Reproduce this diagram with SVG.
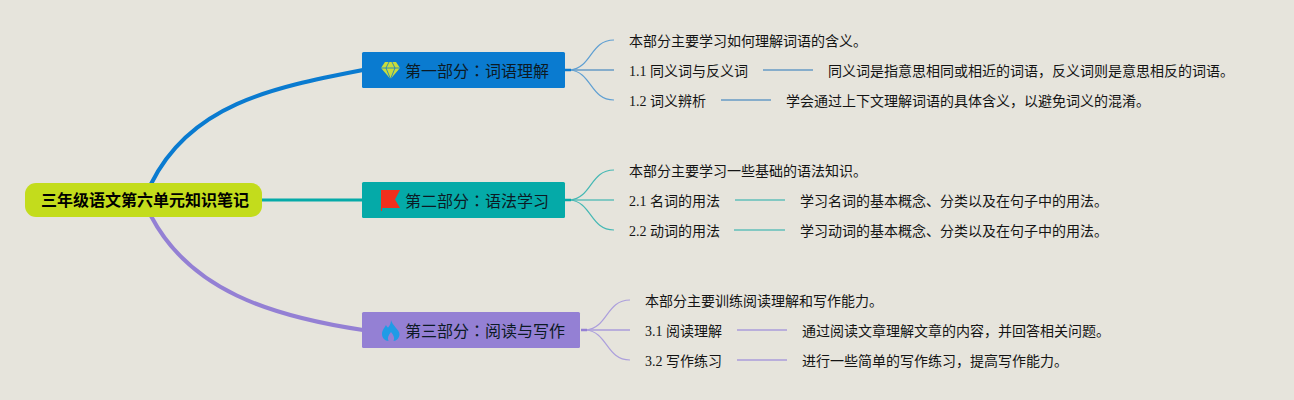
<svg xmlns="http://www.w3.org/2000/svg" width="1294" height="400" viewBox="0 0 1294 400">
<style>
text{font-family:"Liberation Serif","Noto Sans CJK SC",sans-serif;fill:#141414}
.leaf{font-size:14px}
.main{font-size:16px;font-family:"Noto Sans CJK SC",sans-serif;fill:#0c1a24}
.colon{font-family:"Noto Sans CJK TC",sans-serif}
.root{font-size:16px;font-weight:700;font-family:"Noto Sans CJK SC",sans-serif;fill:#000}
.c{fill:none}
.b{stroke:#0a7bd0}.t{stroke:#05aaa8}.p{stroke:#9480d4}
.bl{stroke:#86adcb;stroke-width:2}.tl{stroke:#82c8c2;stroke-width:2}.pl{stroke:#b9aedb;stroke-width:2}
.bs{stroke:#5f9fd2;stroke-width:1.200}.ts{stroke:#45b8b4;stroke-width:1.200}.ps{stroke:#ac9fdc;stroke-width:1.200}
.bt{stroke:#0a7bd0;stroke-width:2.500}.tt{stroke:#05aaa8;stroke-width:2.500}.pt{stroke:#9480d4;stroke-width:2.500}
</style>
<rect width="1294" height="400" fill="#e6e4dc"/>
<g id="connectors" class="c">
<path class="b" stroke-width="4" d="M151 184C190 105 270 88 363 70"/>
<path class="t" stroke-width="3" d="M262 200H363"/>
<path class="p" stroke-width="4" d="M151 216C190 290 270 316 363 330"/>
<path class="bl" d="M570 70H614M763 70H813M721 100H771"/>
<path class="bs" d="M570 70C592 68 590 40 614 40M570 70C592 72 590 100 614 100"/>
<path class="bt" d="M565 70H571"/>
<path class="tl" d="M570 200H614M735 200H785M734 230H785"/>
<path class="ts" d="M570 200C592 198 590 170 614 170M570 200C592 202 590 230 614 230"/>
<path class="tt" d="M565 200H571"/>
<path class="pl" d="M586 330H630M737 330H787M737 360H787"/>
<path class="ps" d="M586 330C608 328 606 300 630 300M586 330C608 332 606 360 630 360"/>
<path class="pt" d="M581 330H587"/>
</g>
<g id="root"><rect x="25" y="183" width="237" height="34" rx="11" fill="#c3dc1c"/><text class="root" x="41" y="206">三年级语文第六单元知识笔记</text></g>
<g id="part1"><rect x="362" y="52" width="203" height="36" rx="1.500" fill="#0a7bd0"/>
<path d="M381 68L385 62H396L400 68L390.500 79Z" fill="#c8dc3c"/><path d="M381 68H400M386 68L390.500 79L395 68L392 62M386 68L389 62" stroke="#0a7bd0" stroke-width=".8" fill="none"/>
<text class="main" x="405" y="77">第一部分<tspan class="colon">：</tspan>词语理解</text></g>
<g id="part2"><rect x="362" y="182" width="203" height="36" rx="1.500" fill="#05aaa8"/>
<path d="M381 190H400L395 199.500L400 208H382V211H381Z" fill="#f2301c"/>
<text class="main" x="405" y="207">第二部分<tspan class="colon">：</tspan>语法学习</text></g>
<g id="part3"><rect x="362" y="312" width="218" height="36" rx="1.500" fill="#9480d4"/>
<path d="M391 320C392 325 399.500 330 399.500 334C399.500 338 396.500 341 393.500 341C395 338 393.500 335 391 332C388.500 335 387 338 388.500 341C385 341 382 338 382 334C382 330 385 327 386 325C387 327 388 328 388.500 327C390 325 391 323 391 320Z" fill="#1f9be6"/>
<text class="main" x="405" y="337">第三部分<tspan class="colon">：</tspan>阅读与写作</text></g>
<g id="p1a"><text class="leaf" x="629" y="46">本部分主要学习如何理解词语的含义。</text></g>
<g id="p1b"><text class="leaf" x="629" y="76">1.1 同义词与反义词</text></g>
<g id="p1b1"><text class="leaf" x="828" y="76">同义词是指意思相同或相近的词语，反义词则是意思相反的词语。</text></g>
<g id="p1c"><text class="leaf" x="629" y="106">1.2 词义辨析</text></g>
<g id="p1c1"><text class="leaf" x="786" y="106">学会通过上下文理解词语的具体含义，以避免词义的混淆。</text></g>
<g id="p2a"><text class="leaf" x="629" y="176">本部分主要学习一些基础的语法知识。</text></g>
<g id="p2b"><text class="leaf" x="629" y="206">2.1 名词的用法</text></g>
<g id="p2b1"><text class="leaf" x="800" y="206">学习名词的基本概念、分类以及在句子中的用法。</text></g>
<g id="p2c"><text class="leaf" x="629" y="236">2.2 动词的用法</text></g>
<g id="p2c1"><text class="leaf" x="800" y="236">学习动词的基本概念、分类以及在句子中的用法。</text></g>
<g id="p3a"><text class="leaf" x="645" y="306">本部分主要训练阅读理解和写作能力。</text></g>
<g id="p3b"><text class="leaf" x="645" y="336">3.1 阅读理解</text></g>
<g id="p3b1"><text class="leaf" x="802" y="336">通过阅读文章理解文章的内容，并回答相关问题。</text></g>
<g id="p3c"><text class="leaf" x="645" y="366">3.2 写作练习</text></g>
<g id="p3c1"><text class="leaf" x="802" y="366">进行一些简单的写作练习，提高写作能力。</text></g>
</svg>
